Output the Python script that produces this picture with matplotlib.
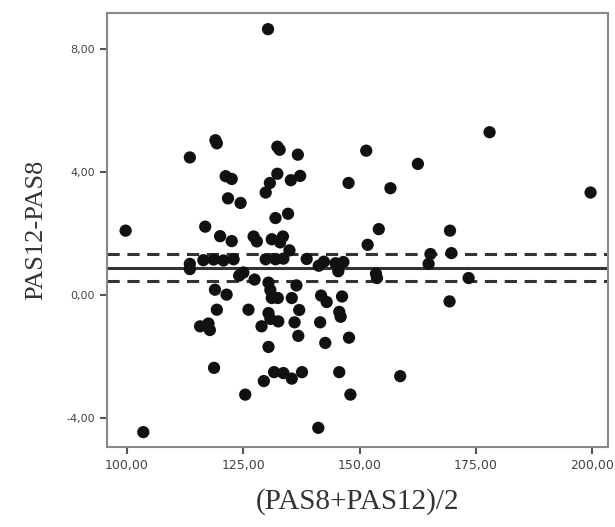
import numpy as np
import matplotlib.pyplot as plt

# points: mean of the two readings, and their difference
mean_pas = [130.3, 99.7, 103.5, 113.5, 119.0, 119.3, 132.3, 132.8, 136.7, 121.2,
            122.5, 132.3, 130.7, 129.8, 135.2, 137.2, 147.6, 121.7, 124.4, 131.9,
            134.6, 116.8, 177.9, 151.4, 162.5, 156.6, 199.6, 154.1, 169.4, 151.7,
            165.2, 169.7, 164.8, 153.5, 153.7, 173.4, 169.3, 146.2, 145.6, 145.9,
            147.7, 145.6, 158.7, 148.0, 120.0, 122.5, 127.2, 127.9, 131.1, 132.9,
            133.5, 134.9, 113.5, 113.5, 116.4, 118.6, 120.7, 122.9, 129.8, 131.9,
            133.6, 138.6, 141.2, 142.3, 144.8, 145.4, 146.5, 124.1, 125.0, 127.4,
            130.4, 130.8, 131.1, 132.4, 136.4, 118.9, 121.4, 135.4, 141.7, 142.9,
            119.3, 126.1, 137.0, 130.4, 130.8, 132.5, 128.9, 115.7, 117.5, 117.8,
            136.0, 141.5, 136.8, 130.4, 142.6, 118.7, 131.6, 133.6, 135.4, 137.6,
            129.4, 125.4, 141.1]
diff_pas = [8.63, 2.08, -4.47, 4.46, 5.02, 4.92, 4.81, 4.71, 4.55, 3.85,
            3.76, 3.93, 3.63, 3.32, 3.72, 3.86, 3.63, 3.13, 2.98, 2.49,
            2.63, 2.21, 5.28, 4.68, 4.25, 3.46, 3.32, 2.13, 2.08, 1.62,
            1.32, 1.35, 1.00, 0.68, 0.54, 0.54, -0.22, -0.06, -0.56, -0.72,
            -1.40, -2.52, -2.65, -3.25, 1.90, 1.74, 1.89, 1.73, 1.80, 1.70,
            1.89, 1.44, 1.00, 0.83, 1.12, 1.14, 1.11, 1.15, 1.15, 1.15,
            1.17, 1.16, 0.94, 1.07, 1.02, 0.76, 1.06, 0.62, 0.72, 0.49,
            0.39, 0.15, -0.11, -0.11, 0.30, 0.16, 0.00, -0.11, -0.03, -0.24,
            -0.49, -0.49, -0.50, -0.60, -0.79, -0.87, -1.03, -1.03, -0.94, -1.15,
            -0.90, -0.90, -1.34, -1.70, -1.57, -2.38, -2.52, -2.55, -2.73, -2.52,
            -2.81, -3.25, -4.33]

mean_diff = 0.85
limits = [1.32, 0.45]

xticks = [100, 125, 150, 175, 200]
yticks = [-4, 0, 4, 8]

fig = plt.figure(figsize=(6.15, 5.27), dpi=100)
ax = fig.add_axes([0.174, 0.152, 0.815, 0.823])

ax.scatter(mean_pas, diff_pas, s=78, color="#111111", edgecolors="none", zorder=3)
ax.axhline(mean_diff, color="#333333", lw=2.2, zorder=2)
for lim in limits:
    ax.axhline(lim, color="#333333", lw=2.2, ls=(0, (4, 2.5)), zorder=2)

ax.set_xlim(95.7, 203.4)
ax.set_ylim(-4.95, 9.15)
ax.set_xticks(xticks)
ax.set_yticks(yticks)
ax.set_xticklabels([f"{t:.2f}".replace(".", ",") for t in xticks])
ax.set_yticklabels([f"{t:.2f}".replace(".", ",") for t in yticks])
ax.tick_params(direction="out", length=5, width=1.5, color="#555555",
               labelcolor="#444444")
ax.tick_params(axis="x", labelsize=9)
ax.tick_params(axis="y", labelsize=8)

for sp in ax.spines.values():
    sp.set_color("#888888")
    sp.set_linewidth(1.5)

ax.set_xlabel("(PAS8+PAS12)/2", family="Liberation Serif", fontsize=21,
              color="#333333", labelpad=12)
ax.set_ylabel("PAS12-PAS8", family="Liberation Serif", fontsize=19,
              color="#333333", labelpad=14)

fig.savefig("out.png", dpi=100)
